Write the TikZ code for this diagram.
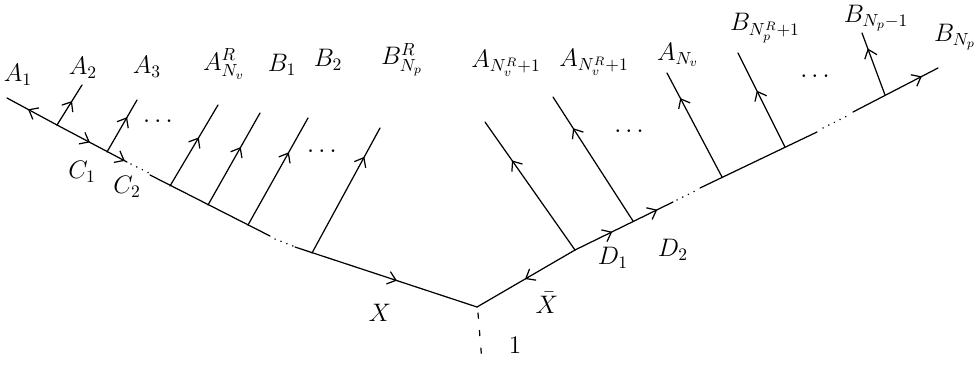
\documentclass[tikz,border=0pt]{standalone}
\usetikzlibrary{arrows.meta,decorations.markings}
\begin{document}
\begin{tikzpicture}[x=0.02cm, y=-0.02cm, line width=0.7pt, line cap=round,
    >={Straight Barb[length=1.6mm,width=2.6mm]},
    midarr/.style={postaction={decorate}, decoration={markings, mark=at position #1 with {\arrow{>}}}},
    twoarr/.style 2 args={postaction={decorate}, decoration={markings, mark=at position #1 with {\arrow{>}}, mark=at position #2 with {\arrow{>}}}},
    gap/.style={dash pattern=on 0.1pt off 3.5pt, line width=0.9pt},
    lbl/.style={font=\Large}]
    \useasboundingbox (0,0) rectangle (980,365);

    % Spine points, left half
    \coordinate (l0) at (7,98);
    \coordinate (a2) at (57,125);
    \coordinate (a3) at (107,152);
    \coordinate (l1) at (127,162);
    \coordinate (l2) at (150,175);
    \coordinate (anr) at (170,186);
    \coordinate (b1) at (208,205);
    \coordinate (b2) at (248,225);
    \coordinate (l3) at (270,236);
    \coordinate (l4) at (295,247);
    \coordinate (bnr) at (312,253);
    \coordinate (v) at (477,307);
    % Spine points, right half
    \coordinate (an1) at (575,250);
    \coordinate (an2) at (633,221);
    \coordinate (r1) at (673,202);
    \coordinate (r2) at (700,188);
    \coordinate (anv) at (722,177);
    \coordinate (bn1) at (785,147);
    \coordinate (r3) at (817,132);
    \coordinate (r4) at (853,112);
    \coordinate (bnm) at (885,95);
    \coordinate (r5) at (938,68);

    % Branch ends
    \coordinate (ta2) at (82,85);
    \coordinate (ta3) at (137,100);
    \coordinate (tanr) at (218,105);
    \coordinate (tb1) at (260,113);
    \coordinate (tb2) at (308,118);
    \coordinate (tbnr) at (380,128);
    \coordinate (tan1) at (485,122);
    \coordinate (tan2) at (553,97);
    \coordinate (tanv) at (667,73);
    \coordinate (tbn1) at (738,53);
    \coordinate (tbnm) at (862,33);

    % Left spine
    \draw[midarr=0.58] (a2) -- (l0);
    \draw[twoarr={0.47}{0.97}] (a2) -- (l1);
    \draw[gap] (l1) ++(4,2) -- ++(18,9);
    \draw (l2) -- (l3);
    \draw[gap] (l3) ++(5,3) -- ++(18,7);
    \draw[midarr=0.56] (l4) -- (v);

    % Right spine
    \draw[midarr=0.51] (an1) -- (v);
    \draw[twoarr={0.38}{0.84}] (an1) -- (r1);
    \draw[gap] (r1) ++(4,-2) -- ++(20,-10);
    \draw (r2) -- (r3);
    \draw[gap] (r3) ++(6,-4) -- ++(24,-12);
    \draw[midarr=0.81] (r4) -- (r5);

    % Legs
    \draw[midarr=0.6] (a2) -- (ta2);
    \draw[midarr=0.67] (a3) -- (ta3);
    \draw[midarr=0.6] (anr) -- (tanr);
    \draw[midarr=0.63] (b1) -- (tb1);
    \draw[midarr=0.68] (b2) -- (tb2);
    \draw[midarr=0.77] (bnr) -- (tbnr);
    \draw[midarr=0.7] (an1) -- (tan1);
    \draw[midarr=0.75] (an2) -- (tan2);
    \draw[midarr=0.76] (anv) -- (tanv);
    \draw[midarr=0.6] (bn1) -- (tbn1);
    \draw[midarr=0.75] (bnm) -- (tbnm);

    % Leg between the two halves
    \coordinate (d0) at (478,313);
    \coordinate (d1) at (482,362);
    \draw[dash pattern=on 3pt off 7pt] (d0) -- (d1);

    % Dots between legs
    \node[lbl] (dt1) at (158,122) {$\cdots$};
    \node[lbl] (dt2) at (322,152) {$\cdots$};
    \node[lbl] (dt3) at (629,132) {$\cdots$};
    \node[lbl] (dt4) at (815,77) {$\cdots$};

    % Labels
    \node[lbl] (nA1) at (18,75) {$A_1$};
    \node[lbl] (nA2) at (83,68) {$A_2$};
    \node[lbl] (nA3) at (147,67) {$A_3$};
    \node[lbl] (nANR) at (224,64) {$A_{N_v}^R$};
    \node[lbl] (nB1) at (282,65) {$B_1$};
    \node[lbl] (nB2) at (328,60) {$B_2$};
    \node[lbl] (nBNR) at (402,60) {$B_{N_p}^R$};
    \node[lbl] (nAN1) at (506,63) {$A_{N_v^R+1}$};
    \node[lbl] (nAN2) at (594,62) {$A_{N_v^R+1}$};
    \node[lbl] (nANv) at (678,55) {$A_{N_v}$};
    \node[lbl] (nBN1) at (765,28) {$B_{N_p^R+1}$};
    \node[lbl] (nBNm) at (876,18) {$B_{N_p-1}$};
    \node[lbl] (nBNp) at (955,37) {$B_{N_p}$};
    \node[lbl] (nC1) at (82,172) {$C_1$};
    \node[lbl] (nC2) at (127,187) {$C_2$};
    \node[lbl] (nD1) at (613,258) {$D_1$};
    \node[lbl] (nD2) at (673,250) {$D_2$};
    \node[lbl] (nX) at (380,313) {$X$};
    \node[lbl] (nXb) at (547,303) {$\bar X$};
    \node[lbl] (n1) at (515,345) {$1$};
\end{tikzpicture}
\end{document}
